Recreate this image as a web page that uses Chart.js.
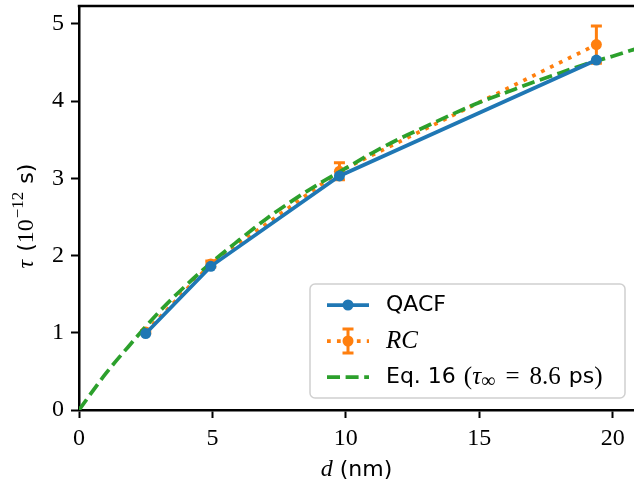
<!DOCTYPE html>
<html>
<head>
<meta charset="utf-8">
<script src="https://cdn.jsdelivr.net/npm/chart.js@4.4.1/dist/chart.umd.min.js"></script>
<style>
  html, body { margin: 0; padding: 0; background: #ffffff; }
  #wrap { width: 634px; height: 487px; position: relative; }
</style>
</head>
<body>
<div id="wrap"><canvas id="tauChart" width="634" height="487"></canvas></div>
<script>
// Relaxation time vs. film thickness

// QACF points
const qacfD = [2.5, 4.94, 9.76, 19.39];
const qacfTau = [0.99, 1.86, 3.03, 4.53];

// RC points with error bars
const rcD = [2.5, 4.94, 9.76, 19.39];
const rcTau = [1.01, 1.89, 3.09, 4.73];
const rcErr = [0.02, 0.04, 0.11, 0.24];

// Eq. 16 curve
const eqD = [0, 1, 2, 3, 4, 5, 6, 7, 8, 9, 10, 11, 12, 13, 14, 15, 16, 17, 18, 19, 20, 21];
const eqTau = [0, 0.47, 0.88, 1.27, 1.61, 1.92, 2.2, 2.47, 2.71, 2.93, 3.13, 3.33, 3.51, 3.67, 3.83, 3.98, 4.11, 4.24, 4.36, 4.48, 4.58, 4.69];

// Axis ticks and legend labels
const xTicks = [0, 5, 10, 15, 20];
const yTicks = [0, 1, 2, 3, 4, 5];
const seriesLabels = ["QACF", "RC", "Eq. 16"];

const BLUE = "#1f77b4";
const ORANGE = "#ff7f0e";
const GREEN = "#2ca02c";
const LW = 3.75;
const MARKER = 5.5;

const SERIF = "'Liberation Serif', 'DejaVu Serif', serif";
const SANS = "'DejaVu Sans', sans-serif";

function toPoints(xs, ys) {
  return xs.map((x, i) => ({ x: x, y: ys[i] }));
}

// Draw a run of text pieces with different fonts, starting at x
function drawPieces(ctx, pieces, x, y, measureOnly) {
  let cx = x;
  pieces.forEach((p) => {
    cx += p.gap || 0;
    ctx.font = p.font;
    if (!measureOnly) ctx.fillText(p.text, cx, y + (p.dy || 0));
    cx += ctx.measureText(p.text).width;
  });
  return cx - x;
}

// Error bars for the RC series, drawn under its markers
const errorBars = {
  id: "errorBars",
  beforeDatasetDraw(chart, args) {
    if (args.index !== 1) return;
    const ctx = chart.ctx;
    const xs = chart.scales.x;
    const ys = chart.scales.y;
    ctx.save();
    ctx.strokeStyle = ORANGE;
    ctx.lineWidth = 3;
    rcD.forEach((d, i) => {
      const px = xs.getPixelForValue(d);
      const top = ys.getPixelForValue(rcTau[i] + rcErr[i]);
      const bot = ys.getPixelForValue(rcTau[i] - rcErr[i]);
      ctx.beginPath();
      ctx.moveTo(px, top);
      ctx.lineTo(px, bot);
      ctx.moveTo(px - 5.5, top);
      ctx.lineTo(px + 5.5, top);
      ctx.moveTo(px - 5.5, bot);
      ctx.lineTo(px + 5.5, bot);
      ctx.stroke();
    });
    ctx.restore();
  },
};

// Top spine, axis titles and the legend box
const decorations = {
  id: "decorations",
  afterDraw(chart) {
    const ctx = chart.ctx;
    const area = chart.chartArea;
    ctx.save();

    // top spine
    ctx.strokeStyle = "#000";
    ctx.lineWidth = 2.5;
    ctx.beginPath();
    ctx.moveTo(area.left - 1.25, area.top);
    ctx.lineTo(area.right, area.top);
    ctx.stroke();

    ctx.fillStyle = "#000";
    ctx.textBaseline = "middle";

    // x title
    const xTitle = [
      { text: "d", font: "italic 24px " + SERIF },
      { text: "(nm)", font: "22px " + SANS, gap: 7 },
    ];
    const xw = drawPieces(ctx, xTitle, 0, 0, true);
    drawPieces(ctx, xTitle, (area.left + area.right) / 2 - xw / 2, 470, false);

    // y title
    const yTitle = [
      { text: "\u03c4", font: "italic 24px " + SERIF },
      { text: "(", font: "22px " + SANS, gap: 8 },
      { text: "10", font: "24px " + SERIF },
      { text: "\u221212", font: "17px " + SERIF, dy: -8, gap: 1 },
      { text: "s", font: "22px " + SANS, gap: 8 },
      { text: ")", font: "22px " + SANS },
    ];
    const yw = drawPieces(ctx, yTitle, 0, 0, true);
    ctx.save();
    ctx.translate(27, 216);
    ctx.rotate(-Math.PI / 2);
    drawPieces(ctx, yTitle, -yw / 2, 0, false);
    ctx.restore();

    // legend frame
    const bx = 310, by = 284, bw = 315, bh = 114, r = 5;
    ctx.beginPath();
    ctx.moveTo(bx + r, by);
    ctx.arcTo(bx + bw, by, bx + bw, by + bh, r);
    ctx.arcTo(bx + bw, by + bh, bx, by + bh, r);
    ctx.arcTo(bx, by + bh, bx, by, r);
    ctx.arcTo(bx, by, bx + bw, by, r);
    ctx.closePath();
    ctx.fillStyle = "rgba(255,255,255,0.8)";
    ctx.fill();
    ctx.strokeStyle = "#d0d0d0";
    ctx.lineWidth = 1.5;
    ctx.stroke();

    const hx0 = 327, hx1 = 369, hm = 348, tx = 386;
    const rows = [305, 341, 377];

    // QACF handle
    ctx.strokeStyle = BLUE;
    ctx.lineWidth = LW;
    ctx.beginPath();
    ctx.moveTo(hx0, rows[0]);
    ctx.lineTo(hx1, rows[0]);
    ctx.stroke();
    ctx.fillStyle = BLUE;
    ctx.beginPath();
    ctx.arc(hm, rows[0], MARKER, 0, Math.PI * 2);
    ctx.fill();

    // RC handle
    ctx.strokeStyle = ORANGE;
    ctx.setLineDash([3.75, 6.2]);
    ctx.beginPath();
    ctx.moveTo(hx0, rows[1]);
    ctx.lineTo(hx1, rows[1]);
    ctx.stroke();
    ctx.setLineDash([]);
    ctx.lineWidth = 3;
    ctx.beginPath();
    ctx.moveTo(hm, rows[1] - 12);
    ctx.lineTo(hm, rows[1] + 12);
    ctx.moveTo(hm - 5.5, rows[1] - 12);
    ctx.lineTo(hm + 5.5, rows[1] - 12);
    ctx.moveTo(hm - 5.5, rows[1] + 12);
    ctx.lineTo(hm + 5.5, rows[1] + 12);
    ctx.stroke();
    ctx.fillStyle = ORANGE;
    ctx.beginPath();
    ctx.arc(hm, rows[1], MARKER, 0, Math.PI * 2);
    ctx.fill();

    // Eq. 16 handle
    ctx.strokeStyle = GREEN;
    ctx.lineWidth = LW;
    ctx.setLineDash([13, 5.6]);
    ctx.beginPath();
    ctx.moveTo(hx0, rows[2]);
    ctx.lineTo(hx1, rows[2]);
    ctx.stroke();
    ctx.setLineDash([]);

    // legend texts
    ctx.fillStyle = "#000";
    drawPieces(ctx, [{ text: seriesLabels[0], font: "22px " + SANS }], tx, rows[0], false);
    drawPieces(ctx, [{ text: seriesLabels[1], font: "italic 25px " + SERIF }], tx, rows[1], false);
    drawPieces(ctx, [
      { text: seriesLabels[2], font: "22px " + SANS },
      { text: "(", font: "25px " + SERIF, gap: 8 },
      { text: "\u03c4", font: "italic 25px " + SERIF },
      { text: "\u221e", font: "20px " + SERIF, dy: 5 },
      { text: "=", font: "25px " + SERIF, gap: 10 },
      { text: "8.6", font: "25px " + SERIF, gap: 10 },
      { text: "ps", font: "22px " + SANS, gap: 8 },
      { text: ")", font: "25px " + SERIF },
    ], tx, rows[2], false);

    ctx.restore();
  },
};

const tickFont = { family: SERIF, size: 24 };

new Chart(document.getElementById("tauChart"), {
  type: "line",
  data: {
    datasets: [
      {
        label: seriesLabels[0],
        data: toPoints(qacfD, qacfTau),
        borderColor: BLUE,
        backgroundColor: BLUE,
        borderWidth: LW,
        pointRadius: MARKER,
        pointBorderWidth: 0,
        tension: 0,
        order: 0,
      },
      {
        label: seriesLabels[1],
        data: toPoints(rcD, rcTau),
        borderColor: ORANGE,
        backgroundColor: ORANGE,
        borderWidth: LW,
        borderDash: [3.75, 6.2],
        pointRadius: MARKER,
        pointBorderWidth: 0,
        tension: 0,
        order: 2,
      },
      {
        label: seriesLabels[2],
        data: toPoints(eqD, eqTau),
        borderColor: GREEN,
        backgroundColor: GREEN,
        borderWidth: LW,
        borderDash: [13, 5.6],
        pointRadius: 0,
        cubicInterpolationMode: "monotone",
        order: 1,
      },
    ],
  },
  options: {
    responsive: false,
    animation: false,
    devicePixelRatio: 1,
    layout: { autoPadding: false, padding: { top: 6, left: 0, right: 0, bottom: 0 } },
    plugins: {
      legend: { display: false },
      tooltip: { enabled: false },
    },
    scales: {
      x: {
        type: "linear",
        min: 0,
        max: 20.8,
        afterFit: (scale) => {
          scale.height = 77;
          scale.paddingLeft = 0;
          scale.paddingRight = 0;
        },
        afterBuildTicks: (scale) => { scale.ticks = xTicks.map((v) => ({ value: v })); },
        grid: { drawOnChartArea: false, drawTicks: true, tickLength: 8, tickWidth: 2, tickColor: "#000" },
        border: { display: true, color: "#000", width: 2.5 },
        ticks: { color: "#000", font: tickFont, padding: 6, maxRotation: 0 },
      },
      y: {
        type: "linear",
        min: 0,
        max: 5.23,
        afterFit: (scale) => {
          scale.width = 79;
          scale.paddingTop = 0;
          scale.paddingBottom = 0;
        },
        afterBuildTicks: (scale) => { scale.ticks = yTicks.map((v) => ({ value: v })); },
        grid: { drawOnChartArea: false, drawTicks: true, tickLength: 8, tickWidth: 2, tickColor: "#000" },
        border: { display: true, color: "#000", width: 2.5 },
        ticks: { color: "#000", font: tickFont, padding: 7 },
      },
    },
  },
  plugins: [errorBars, decorations],
});
</script>
</body>
</html>
